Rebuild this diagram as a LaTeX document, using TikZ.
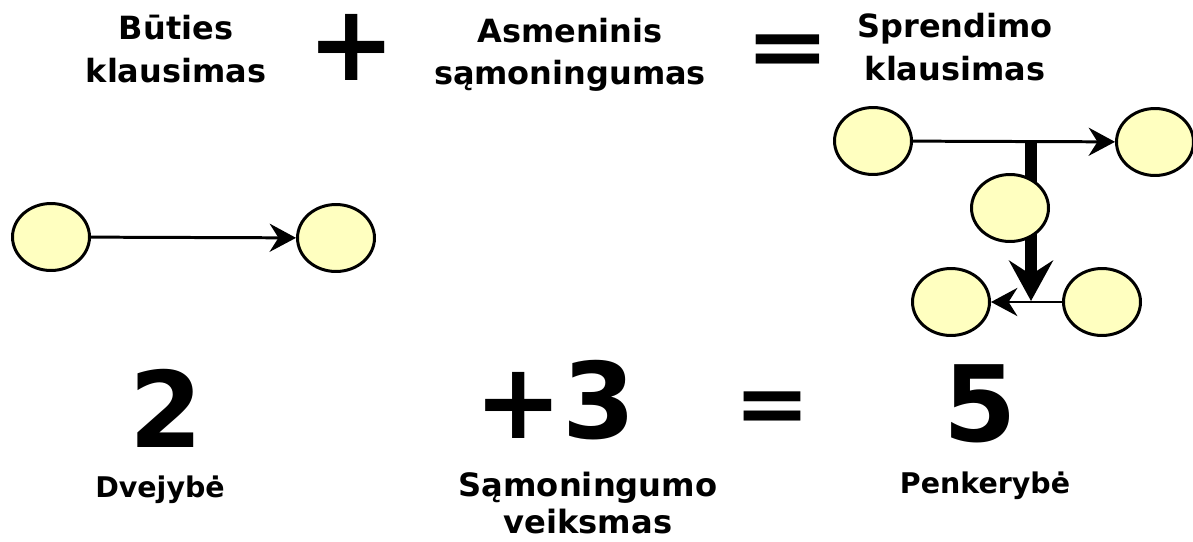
\documentclass[tikz,border=0pt]{standalone}
\usepackage{fontspec}
\setmainfont{DejaVu Sans}
\usepackage{tikz}
\usetikzlibrary{arrows.meta,shapes.geometric}
\definecolor{geltona}{RGB}{255,255,192}

\tikzset{
	mazgas/.style={ellipse,draw=black,line width=1.7pt,fill=geltona,minimum width=1.54cm,minimum height=1.34cm,inner sep=0pt},
	rodykle/.style={line width=1.7pt,-{Stealth[length=15pt,width=16pt,inset=5pt]}},
	storarodykle/.style={line width=6.8pt,-{Stealth[length=23pt,width=25pt,inset=8pt]}},
	uzrasas/.style={font=\bfseries\fontsize{18.2}{24}\selectfont,align=center,inner sep=0pt},
	mazasuzr/.style={font=\bfseries\fontsize{16.2}{20}\selectfont,inner sep=0pt,anchor=base},
	skaicius/.style={font=\bfseries\fontsize{60}{60}\selectfont,inner sep=0pt}
}

\begin{document}
\begin{tikzpicture}[x=0.02cm,y=-0.02cm]
					\useasboundingbox (0,0) rectangle (1193,541);
					
					% virsutine eilute
					\node[uzrasas] (buties) at (176,49) {Būties\\klausimas};
					\node[skaicius] (plius) at (352,47) {+};
					\node[uzrasas] (asmen) at (570,55) {Asmeninis\\sąmoningumas};
					\node[skaicius,anchor=base] (lygu) at (788,76) {\scalebox{0.96}[0.82]{=}};
					\node[uzrasas] (sprend) at (955,47) {Sprendimo\\klausimas};
					
					% dvejybe
					\node[mazgas] (d1) at (51,237) {};
					\node[mazgas] (d2) at (336,238) {};
					\draw[rodykle] (d1) -- (d2);
					
					% penkerybe
					\node[mazgas] (p1) at (873,141) {};
					\node[mazgas] (p2) at (1155,142) {};
					\node[mazgas] (p4) at (951,302) {};
					\node[mazgas] (p5) at (1102,302) {};
					\draw[rodykle] (p1) -- (p2);
					\draw[rodykle] (p5) -- (p4);
					\coordinate (s1) at (1031,143);
					\coordinate (s2) at (1031,301);
					\draw[storarodykle] (s1) -- (s2);
					\node[mazgas] (p3) at (1010,208) {};
					
					% apatine eilute
					\node[skaicius] (du) at (166,408) {2};
					\node[skaicius] (trys) at (555,400) {+3};
					\node[skaicius,anchor=base] (lygu2) at (772,433) {\scalebox{0.86}[0.82]{=}};
					\node[skaicius] (penki) at (980,404) {5};
					\node[mazasuzr] (dvej) at (160,497) {Dvejybė};
					\node[uzrasas,font=\bfseries\fontsize{18.3}{21.6}\selectfont] (veiksm) at (588,503) {Sąmoningumo\\veiksmas};
					\node[mazasuzr] (penk) at (985,493) {Penkerybė};
				\end{tikzpicture}
\end{document}
